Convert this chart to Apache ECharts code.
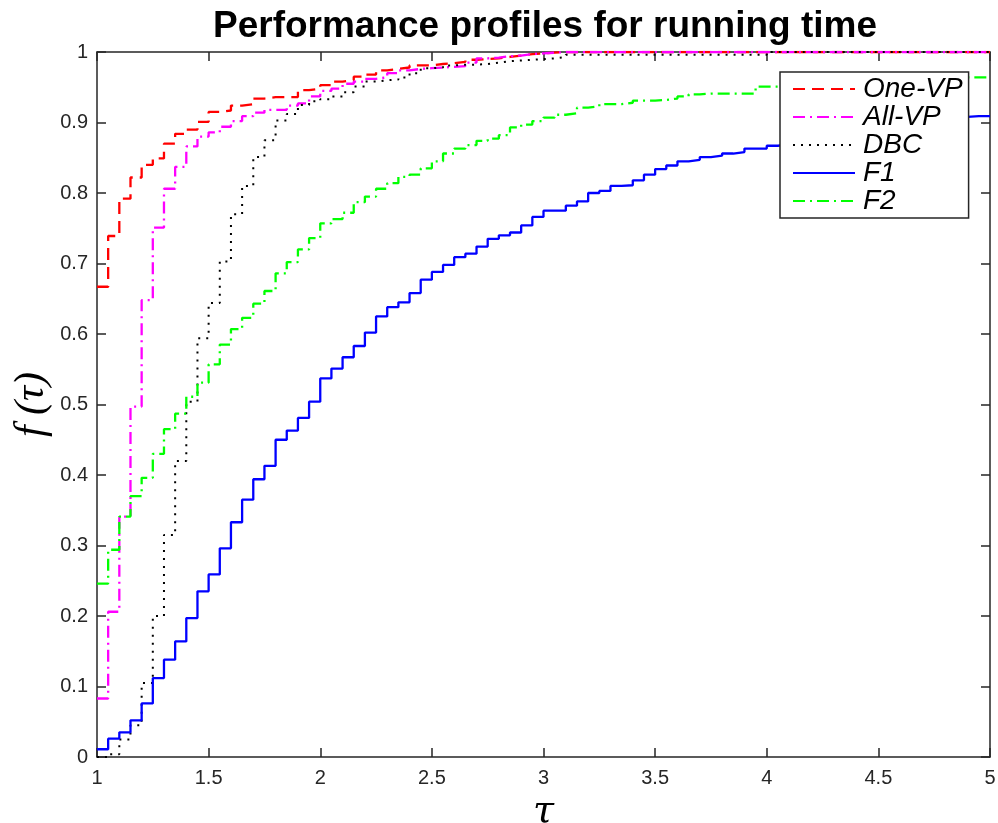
<!DOCTYPE html>
<html>
<head>
<meta charset="utf-8">
<title>Performance profiles for running time</title>
<script src="https://cdn.jsdelivr.net/npm/echarts@6.0.0/dist/echarts.min.js"></script>
<style>
    html, body { margin: 0; padding: 0; background: #fff; }
    #chart { width: 998px; height: 823px; }
</style>
</head>
<body>
<div id="chart"></div>
<script>
    // tau grid of the profile (step positions)
    var tau = [
        1.00, 1.05, 1.10, 1.15, 1.20, 1.25, 1.30, 1.35, 1.40, 1.45,
        1.50, 1.55, 1.60, 1.65, 1.70, 1.75, 1.80, 1.85, 1.90, 1.95,
        2.00, 2.05, 2.10, 2.15, 2.20, 2.25, 2.30, 2.35, 2.40, 2.45,
        2.50, 2.55, 2.60, 2.65, 2.70, 2.75, 2.80, 2.85, 2.90, 2.95,
        3.00, 3.05, 3.10, 3.15, 3.20, 3.25, 3.30, 3.35, 3.40, 3.45,
        3.50, 3.55, 3.60, 3.65, 3.70, 3.75, 3.80, 3.85, 3.90, 3.95,
        4.00, 4.05, 4.10, 4.15, 4.20, 4.25, 4.30, 4.35, 4.40, 4.45,
        4.50, 4.55, 4.60, 4.65, 4.70, 4.75, 4.80, 4.85, 4.90, 4.95,
        5.00
    ];

    var oneVP = [
        0.667, 0.739, 0.792, 0.822, 0.840, 0.849, 0.870, 0.884, 0.890, 0.901,
        0.915, 0.917, 0.924, 0.926, 0.934, 0.936, 0.936, 0.936, 0.946, 0.948,
        0.953, 0.958, 0.960, 0.965, 0.968, 0.974, 0.976, 0.978, 0.981, 0.981,
        0.983, 0.984, 0.986, 0.989, 0.990, 0.991, 0.993, 0.995, 0.997, 0.998,
        0.999, 1, 1, 1, 1, 1, 1, 1, 1, 1,
        1, 1, 1, 1, 1, 1, 1, 1, 1, 1,
        1, 1, 1, 1, 1, 1, 1, 1, 1, 1,
        1, 1, 1, 1, 1, 1, 1, 1, 1, 1,
        1
    ];

    var allVP = [
        0.083, 0.206, 0.341, 0.497, 0.648, 0.751, 0.806, 0.837, 0.866, 0.880,
        0.886, 0.894, 0.902, 0.909, 0.914, 0.918, 0.918, 0.924, 0.927, 0.937,
        0.945, 0.948, 0.955, 0.958, 0.962, 0.964, 0.970, 0.974, 0.976, 0.977,
        0.978, 0.979, 0.980, 0.985, 0.991, 0.992, 0.994, 0.995, 0.997, 0.998,
        0.999, 1, 1, 1, 1, 1, 1, 1, 1, 1,
        1, 1, 1, 1, 1, 1, 1, 1, 1, 1,
        1, 1, 1, 1, 1, 1, 1, 1, 1, 1,
        1, 1, 1, 1, 1, 1, 1, 1, 1, 1,
        1
    ];

    var dbc = [
        0.000, 0.004, 0.025, 0.045, 0.105, 0.200, 0.315, 0.420, 0.504, 0.594,
        0.644, 0.703, 0.770, 0.810, 0.851, 0.875, 0.903, 0.912, 0.925, 0.930,
        0.933, 0.937, 0.943, 0.951, 0.958, 0.960, 0.961, 0.964, 0.970, 0.977,
        0.978, 0.981, 0.982, 0.982, 0.983, 0.985, 0.987, 0.988, 0.989, 0.990,
        0.991, 0.993, 0.996, 0.996, 0.996, 0.996, 0.996, 0.996, 0.996, 0.996,
        0.996, 0.996, 0.996, 0.996, 0.996, 0.996, 0.996, 0.996, 0.996, 0.996,
        1, 1, 1, 1, 1, 1, 1, 1, 1, 1,
        1, 1, 1, 1, 1, 1, 1, 1, 1, 1,
        1
    ];

    var f1 = [
        0.011, 0.026, 0.035, 0.052, 0.076, 0.112, 0.138, 0.164, 0.197, 0.235,
        0.259, 0.296, 0.333, 0.365, 0.394, 0.413, 0.450, 0.463, 0.481, 0.504,
        0.537, 0.551, 0.567, 0.583, 0.602, 0.625, 0.638, 0.645, 0.658, 0.677,
        0.688, 0.698, 0.709, 0.714, 0.724, 0.735, 0.740, 0.744, 0.754, 0.766,
        0.775, 0.775, 0.782, 0.788, 0.800, 0.803, 0.810, 0.811, 0.818, 0.826,
        0.834, 0.839, 0.845, 0.847, 0.851, 0.853, 0.856, 0.858, 0.863, 0.863,
        0.867, 0.869, 0.872, 0.874, 0.877, 0.879, 0.881, 0.884, 0.886, 0.888,
        0.891, 0.893, 0.896, 0.898, 0.901, 0.903, 0.906, 0.908, 0.909, 0.909,
        0.909
    ];

    var f2 = [
        0.246, 0.294, 0.341, 0.370, 0.396, 0.430, 0.465, 0.487, 0.511, 0.531,
        0.557, 0.585, 0.607, 0.623, 0.643, 0.661, 0.686, 0.702, 0.720, 0.736,
        0.757, 0.763, 0.772, 0.787, 0.795, 0.806, 0.814, 0.823, 0.826, 0.835,
        0.845, 0.856, 0.863, 0.868, 0.874, 0.877, 0.882, 0.893, 0.897, 0.902,
        0.907, 0.911, 0.913, 0.921, 0.923, 0.926, 0.926, 0.928, 0.931, 0.931,
        0.932, 0.934, 0.937, 0.940, 0.941, 0.941, 0.941, 0.941, 0.941, 0.951,
        0.951, 0.952, 0.953, 0.954, 0.955, 0.956, 0.957, 0.958, 0.959, 0.960,
        0.961, 0.962, 0.963, 0.964, 0.964, 0.964, 0.964, 0.964, 0.964, 0.964,
        0.964
    ];

    var xTickLabels = ['1', '1.5', '2', '2.5', '3', '3.5', '4', '4.5', '5'];
    var yTickLabels = ['0', '0.1', '0.2', '0.3', '0.4', '0.5', '0.6', '0.7', '0.8', '0.9', '1'];

    var axisColor = '#262626';
    var tickFont = "'Liberation Sans Narrow', 'Liberation Sans', Arial, sans-serif";

    function pairs(values) {
        var out = [];
        for (var i = 0; i < tau.length; i++) {
            out.push([tau[i], values[i]]);
        }
        return out;
    }

    function makeSeries(name, values, color, width, dash) {
        return {
            name: name,
            type: 'line',
            step: 'end',
            symbol: 'none',
            symbolSize: 0,
            showSymbol: false,
            data: pairs(values),
            itemStyle: { color: color },
            lineStyle: { color: color, width: width, type: dash },
            emphasis: { disabled: true }
        };
    }

    var chart = echarts.init(document.getElementById('chart'), null, { renderer: 'canvas' });

    var axisLine = { show: true, onZero: false, lineStyle: { color: axisColor, width: 1.5 } };
    var axisTick = { show: true, inside: true, length: 9, lineStyle: { color: axisColor, width: 1.5 } };

    chart.setOption({
        animation: false,
        backgroundColor: '#fff',
        title: {
            text: 'Performance profiles for running time',
            left: 540,
            top: 3,
            textAlign: 'center',
            textStyle: {
                fontFamily: "'Liberation Sans', Arial, sans-serif",
                fontWeight: 'bold',
                fontSize: 37,
                color: '#000'
            }
        },
        legend: {
            orient: 'vertical',
            left: 780,
            top: 72,
            backgroundColor: '#fff',
            borderColor: axisColor,
            borderWidth: 1.5,
            padding: [3, 6, 3, 12],
            itemWidth: 62,
            itemHeight: 14,
            itemGap: 0,
            itemStyle: { opacity: 0 },
            textStyle: {
                fontFamily: "'Liberation Sans', Arial, sans-serif",
                fontStyle: 'italic',
                fontSize: 28,
                lineHeight: 27.5,
                padding: [0, 0, 0, 3],
                color: '#000'
            },
            data: ['One-VP', 'All-VP', 'DBC', 'F1', 'F2']
        },
        grid: { left: 97, right: 8, top: 52, bottom: 66, outerBoundsMode: 'none' },
        xAxis: [{
            type: 'value',
            min: 1,
            max: 5,
            interval: 0.5,
            position: 'bottom',
            axisLine: axisLine,
            axisTick: axisTick,
            splitLine: { show: false },
            axisLabel: {
                fontFamily: tickFont,
                fontSize: 20,
                color: axisColor,
                margin: 11,
                formatter: function (v, i) { return xTickLabels[i]; }
            },
            name: 'τ',
            nameLocation: 'middle',
            nameGap: 36,
            nameMoveOverlap: false,
            nameTextStyle: {
                fontFamily: "'DejaVu Serif', 'Liberation Serif', serif",
                fontStyle: 'italic',
                fontSize: 38,
                color: '#000'
            }
        }, {
            type: 'value',
            min: 1,
            max: 5,
            interval: 0.5,
            position: 'top',
            axisLine: axisLine,
            axisTick: axisTick,
            splitLine: { show: false },
            axisLabel: { show: false }
        }],
        yAxis: [{
            type: 'value',
            min: 0,
            max: 1,
            interval: 0.1,
            position: 'left',
            axisLine: axisLine,
            axisTick: axisTick,
            splitLine: { show: false },
            axisLabel: {
                fontFamily: tickFont,
                fontSize: 20,
                color: axisColor,
                margin: 9,
                formatter: function (v, i) { return yTickLabels[i]; }
            },
            name: 'f (τ)',
            nameLocation: 'middle',
            nameGap: 44,
            nameMoveOverlap: false,
            nameTextStyle: {
                fontFamily: "'Liberation Serif', 'DejaVu Serif', serif",
                fontStyle: 'italic',
                fontSize: 42,
                color: '#000'
            }
        }, {
            type: 'value',
            min: 0,
            max: 1,
            interval: 0.1,
            position: 'right',
            axisLine: axisLine,
            axisTick: axisTick,
            splitLine: { show: false },
            axisLabel: { show: false }
        }],
        series: [
            makeSeries('One-VP', oneVP, '#ff0000', 2.3, [12, 7]),
            makeSeries('All-VP', allVP, '#ff00ff', 2.3, [12, 5, 2, 5]),
            makeSeries('DBC', dbc, '#000000', 2, [2, 6]),
            makeSeries('F1', f1, '#0000ff', 2.3, 'solid'),
            makeSeries('F2', f2, '#00ff00', 2.3, [12, 5, 2, 5])
        ]
    });
</script>
</body>
</html>
